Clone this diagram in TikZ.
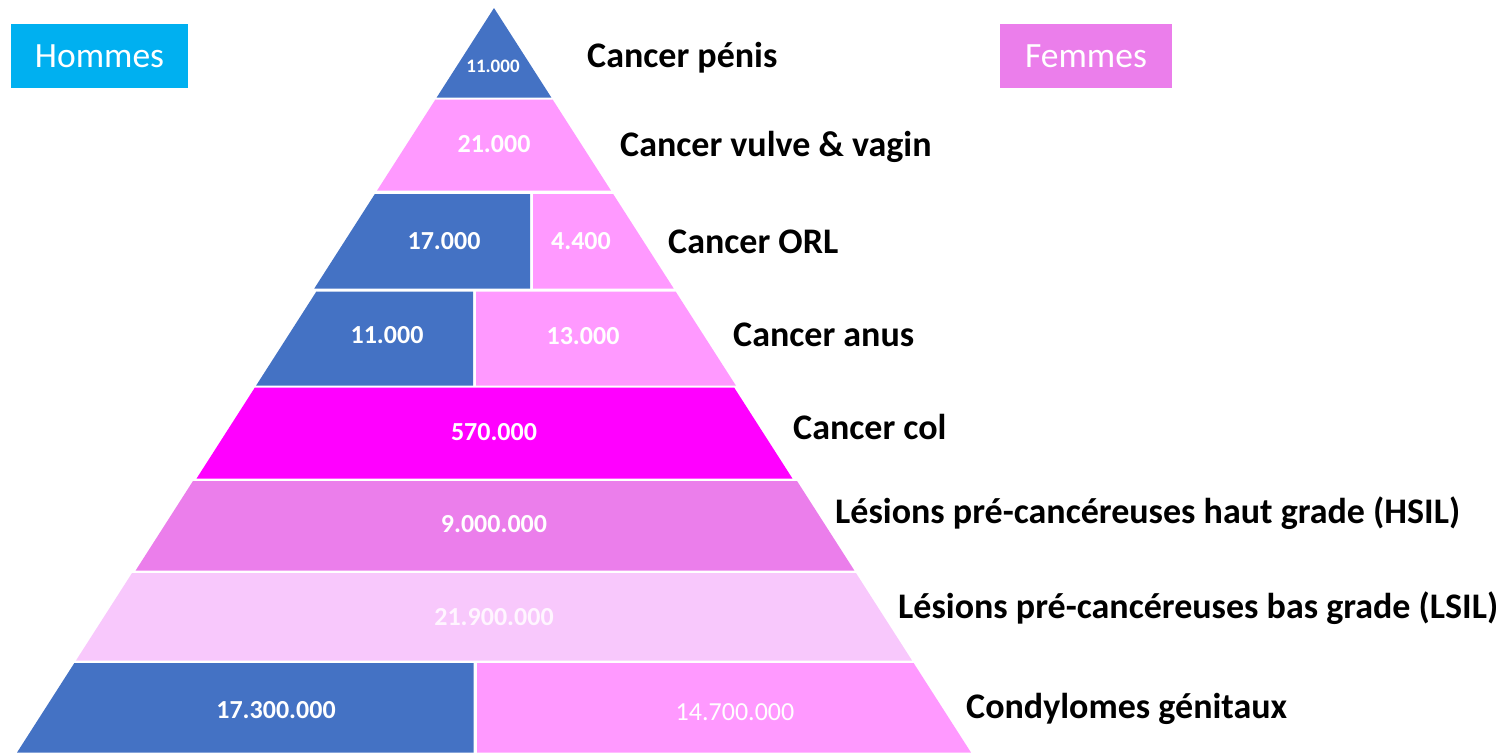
\documentclass[tikz,border=0pt]{standalone}
\usepackage{fontspec}
\setmainfont{Carlito}
\definecolor{hblue}{HTML}{4472C4}
\definecolor{fpink}{HTML}{FF99FF}
\definecolor{fmag}{HTML}{FF00FF}
\definecolor{forchid}{HTML}{EB7EEB}
\definecolor{flight}{HTML}{F8C8FC}
\definecolor{hcyan}{HTML}{00B0F0}
\tikzset{
  lbl/.style={anchor=base west, inner sep=0pt, font=\fontsize{36}{42}\selectfont\bfseries, text=black},
  num/.style={inner sep=0pt, font=\fontsize{26}{31}\selectfont\bfseries, text=white},
  numreg/.style={inner sep=0pt, font=\fontsize{26}{31}\selectfont, text=white},
  legendbox/.style={inner sep=0pt, minimum height=64pt, font=\fontsize{35.5}{42}\selectfont, text=white},
}
% trapezoid band: ytop, ybot, left inset, right inset, colour
\newcommand\trapband[5]{%
  \fill[#5] ({494-(#1-8)*0.64067+#3},#1) -- ({494+(#1-8)*0.64067-#4},#1)
    -- ({494+(#2-8)*0.64067-#4},#2) -- ({494-(#2-8)*0.64067+#3},#2) -- cycle;}
\begin{document}
\begin{tikzpicture}[x=1pt,y=-1pt]
\useasboundingbox (0,0) rectangle (1503,755);
% band 1
\trapband{8}{97.5}{0}{0}{hblue}
% band 2
\trapband{99.5}{190.5}{0}{0}{fpink}
% band 3
\begin{scope}\clip (0,0) rectangle (530,800); \trapband{194}{288.5}{0}{0}{hblue}\end{scope}
\begin{scope}\clip (533,0) rectangle (1100,800); \trapband{194}{288.5}{0}{0}{fpink}\end{scope}
% band 4
\begin{scope}\clip (0,0) rectangle (473,800); \trapband{291.5}{385.5}{4}{0}{hblue}\end{scope}
\begin{scope}\clip (476,0) rectangle (1100,800); \trapband{291.5}{385.5}{4}{0}{fpink}\end{scope}
% band 5
\trapband{387.5}{478.5}{4}{3}{fmag}
% band 6
\trapband{481}{570.5}{2}{0}{forchid}
% band 7
\trapband{573}{660.5}{0}{0}{flight}
% band 8
\begin{scope}\clip (0,0) rectangle (473.5,800); \trapband{663}{752.5}{0}{0}{hblue}\end{scope}
\begin{scope}\clip (477,0) rectangle (1100,800); \trapband{663}{752.5}{0}{0}{fpink}\end{scope}
% numbers
\node[num, font=\fontsize{19}{23}\selectfont\bfseries] (n1) at (493,66) {11.000};
\node[num] (n2) at (494,144) {21.000};
\node[num] (n3a) at (444,241) {17.000};
\node[num] (n3b) at (581,241) {4.400};
\node[num] (n4a) at (387,335) {11.000};
\node[num] (n4b) at (583,336) {13.000};
\node[num] (n5) at (494,432) {570.000};
\node[num] (n6) at (494,524) {9.000.000};
\node[num, text=white!96!fmag] (n7) at (494,617) {21.900.000};
\node[num] (n8a) at (276,710) {17.300.000};
\node[numreg] (n8b) at (735,712) {14.700.000};
% labels
\node[lbl] (l1) at (587,67) {Cancer pénis};
\node[lbl] (l2) at (620,156) {Cancer vulve \& vagin};
\node[lbl] (l3) at (668,253) {Cancer ORL};
\node[lbl] (l4) at (733,346) {Cancer anus};
\node[lbl] (l5) at (793,439) {Cancer col};
\node[lbl] (l6) at (835,523) {Lésions pré-cancéreuses haut grade (HSIL)};
\node[lbl] (l7) at (898,618) {Lésions pré-cancéreuses bas grade (LSIL)};
\node[lbl] (l8) at (966,718) {Condylomes génitaux};
% legend boxes
\fill[hcyan] (11,24) rectangle (188,88);
\node[legendbox] (hommes) at (99.5,56) {Hommes};
\fill[forchid] (1000,24) rectangle (1172,88);
\node[legendbox] (femmes) at (1086,56) {Femmes};
\end{tikzpicture}
\end{document}
